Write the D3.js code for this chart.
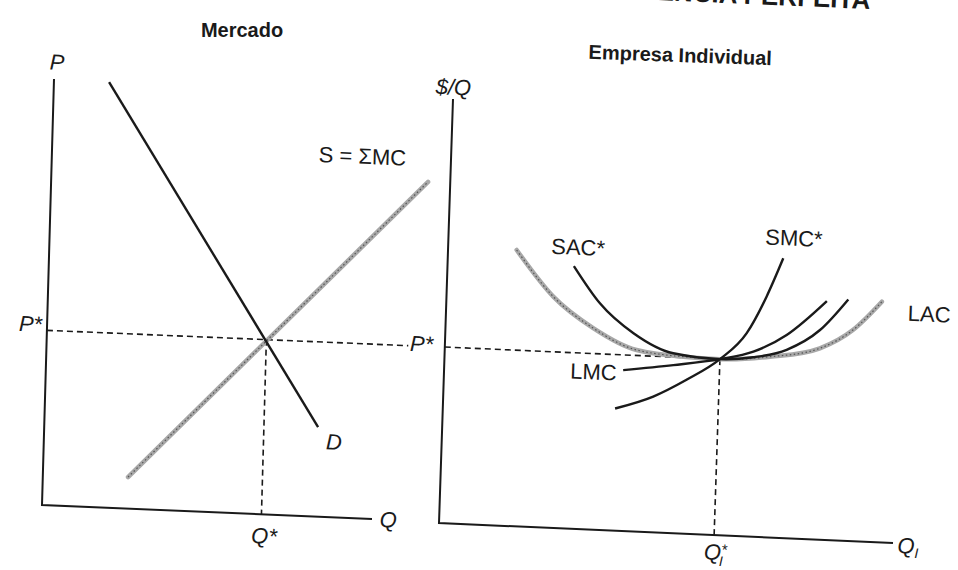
<!DOCTYPE html>
<html>
<head>
<meta charset="utf-8">
<script src="https://cdn.jsdelivr.net/npm/d3@7"></script>
<style>
  body { margin: 0; background: #fff; }
  svg { display: block; }
  .lbl { font-family: "Liberation Sans", Arial, sans-serif; font-size: 22px; fill: #1a1a1a; }
  .it { font-style: italic; }
  .title { font-family: "Liberation Sans Narrow", "Liberation Sans", Arial, sans-serif; font-weight: bold; font-size: 20px; fill: #1a1a1a; }
</style>
</head>
<body>
<div id="chart"></div>
<script>
// ---- market panel (left) ----
const demandQ = [1.67, 8.29];
const demandP = [9.98, 2.10];
const supplyQ = [2.58, 11.41];
const supplyP = [0.74, 7.96];
const marketEqQ = [6.65];
const marketEqP = [4.1];

// ---- firm panel (right) ----
const lacQ = [1.51, 2.35, 3.25, 4.22, 5.25, 6.06, 7.16, 8.25, 8.97, 9.58];
const lacC = [6.51, 5.45, 4.75, 4.28, 4.17, 4.15, 4.26, 4.51, 4.98, 5.67];
const sacQ = [2.78, 3.38, 4.14, 5.03, 6.06, 6.79, 7.52, 8.24, 8.84];
const sacC = [6.19, 5.34, 4.67, 4.24, 4.15, 4.23, 4.44, 4.94, 5.69];
const lmcQ = [3.94, 5.04, 6.06, 6.79, 7.51, 8.37];
const lmcC = [3.79, 3.96, 4.15, 4.36, 4.79, 5.63];
const smcQ = [3.79, 4.62, 5.34, 6.06, 6.63, 7.04, 7.38];
const smcC = [2.88, 3.20, 3.63, 4.15, 4.79, 5.67, 6.59];
const firmEqQ = [6.06];
const firmEqC = [4.15];

const width = 958, height = 570;

const svg = d3.select("#chart").append("svg")
    .attr("width", width)
    .attr("height", height);

// titles (the scanned page is a little tilted, top one is cut by the page edge)
svg.append("text")
    .attr("class", "title")
    .attr("transform", "translate(870,9) rotate(2.4)")
    .attr("text-anchor", "end")
    .style("font-size", "26px")
    .text("CONCORRÊNCIA PERFEITA");

svg.append("text")
    .attr("class", "title")
    .attr("x", 242).attr("y", 37)
    .attr("text-anchor", "middle")
    .text("Mercado");

svg.append("text")
    .attr("class", "title")
    .attr("transform", "translate(680,62) rotate(2)")
    .attr("text-anchor", "middle")
    .text("Empresa Individual");

// each panel lives in its own slightly skewed frame, like the scan
function panel(origin, xEnd, yTop) {
    let w = xEnd[0], h = -yTop[1];
    let g = svg.append("g")
        .attr("transform", `matrix(1, ${xEnd[1] / w}, ${-yTop[0] / h}, 1, ${origin[0]}, ${origin[1]})`);
    let x = d3.scaleLinear().domain([0, 10]).range([0, w]);
    let y = d3.scaleLinear().domain([0, 10]).range([0, -h]);
    return {g, x, y};
}

function drawAxes(p) {
    p.g.append("path")
        .attr("d", d3.line()([[p.x(0), p.y(10)], [p.x(0), p.y(0)], [p.x(10), p.y(0)]]))
        .attr("fill", "none")
        .attr("stroke", "#1a1a1a")
        .attr("stroke-width", 2);
}

function dashed(p, pts) {
    p.g.append("path")
        .attr("d", d3.line().x(d => p.x(d[0])).y(d => p.y(d[1]))(pts))
        .attr("fill", "none")
        .attr("stroke", "#1a1a1a")
        .attr("stroke-width", 1.6)
        .attr("stroke-dasharray", "6,4");
}

function curve(p, qs, vs, gray) {
    let line = d3.line()
        .x(d => p.x(d[0]))
        .y(d => p.y(d[1]))
        .curve(qs.length > 2 ? d3.curveMonotoneX : d3.curveLinear);
    let pts = qs.map((q, i) => [q, vs[i]]);
    if (gray) {
        p.g.append("path")
            .attr("d", line(pts))
            .attr("fill", "none")
            .attr("stroke", "#a8a8a8")
            .attr("stroke-width", 4.5)
            .attr("stroke-linecap", "round");
        p.g.append("path")
            .attr("d", line(pts))
            .attr("fill", "none")
            .attr("stroke", "#555")
            .attr("stroke-width", 1.2)
            .attr("stroke-dasharray", "1.5,2.5");
    } else {
        p.g.append("path")
            .attr("d", line(pts))
            .attr("fill", "none")
            .attr("stroke", "#1a1a1a")
            .attr("stroke-width", 2.4);
    }
}

function label(p, q, v, txt, cls, anchor, sup) {
    let t = p.g.append("text")
        .attr("class", "lbl " + (cls || ""))
        .attr("x", p.x(q))
        .attr("y", p.y(v))
        .attr("dy", "0.35em")
        .attr("text-anchor", anchor || "middle")
        .text(txt);
    if (sup) {
        t.append("tspan").attr("dy", "-0.35em").style("font-size", "15px").text(sup[0]);
        t.append("tspan").attr("dx", "-0.55em").attr("dy", "0.8em").style("font-size", "14px").text(sup[1]);
    }
    return t;
}

// ---- left: Mercado ----
let mk = panel([42, 505], [330, 14], [12, -426]);
drawAxes(mk);
dashed(mk, [[0, marketEqP[0]], [10.95, marketEqP[0]]]);
dashed(mk, [[marketEqQ[0], marketEqP[0]], [marketEqQ[0], 0]]);
curve(mk, supplyQ, supplyP, true);
curve(mk, demandQ, demandP, false);

label(mk, 0.08, 10.4, "P", "it");
label(mk, -0.15, 4.24, "P*", "it", "end");
label(mk, 11.0, 4.16, "P*", "it", "start");
label(mk, 9.4, 8.5, "S = ΣMC");
label(mk, 8.78, 1.77, "D", "it");
label(mk, 10.49, 0, "Q", "it");
label(mk, 6.75, -0.5, "Q*", "it");

// ---- right: Empresa Individual ----
let fm = panel([439, 523], [454, 20], [14, -424]);
drawAxes(fm);
dashed(fm, [[0, firmEqC[0]], [firmEqQ[0], firmEqC[0]]]);
dashed(fm, [[firmEqQ[0], firmEqC[0]], [firmEqQ[0], 0]]);
curve(fm, lacQ, lacC, true);
curve(fm, sacQ, sacC, false);
curve(fm, lmcQ, lmcC, false);
curve(fm, smcQ, smcC, false);

label(fm, 0, 10.28, "$/Q", "it");
label(fm, 2.86, 6.64, "SAC*");
label(fm, 7.6, 7.08, "SMC*");
label(fm, 10.16, 5.43, "LAC", "", "start");
label(fm, 3.8, 3.72, "LMC", "", "end");
label(fm, 10.1, -0.05, "Q", "it", "start")
    .append("tspan").attr("dy", "0.3em").style("font-size", "14px").text("I");
label(fm, 6.1, -0.4, "Q", "it", "middle", ["*", "I"]);
</script>
</body>
</html>
